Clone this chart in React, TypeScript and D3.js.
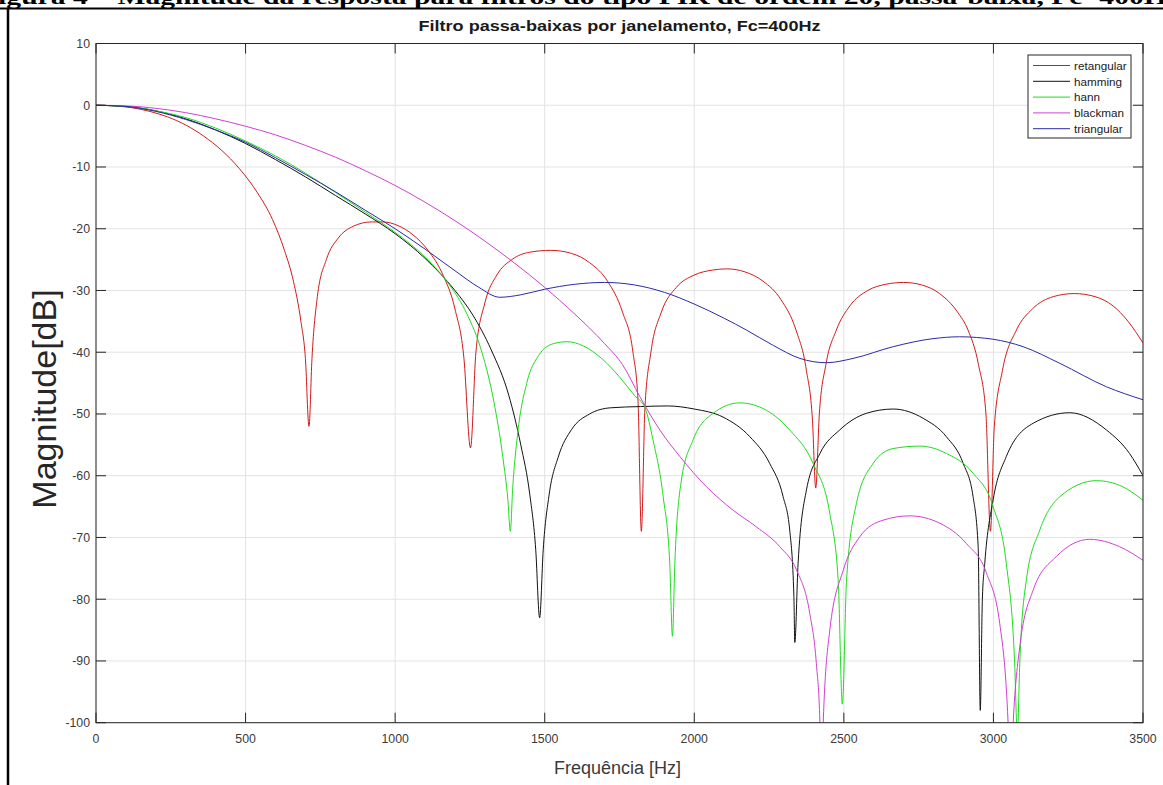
import React from "react";
import * as d3 from "d3";

const W = 1163;
const H = 785;

const headerText = "Figura 4 – Magnitude da resposta para filtros do tipo FIR de ordem 20, passa-baixa, Fc=400Hz";
const titleText = "Filtro passa-baixas por janelamento, Fc=400Hz";
const xLabel = "Frequência [Hz]";
const yLabel = "Magnitude[dB]";

const xTicks = [0, 500, 1000, 1500, 2000, 2500, 3000, 3500];
const yTicks = [10, 0, -10, -20, -30, -40, -50, -60, -70, -80, -90, -100];

const seriesNames = ["retangular", "hamming", "hann", "blackman", "triangular"];
const seriesColors = ["#d41a1a", "#111111", "#1fdc1f", "#d040d0", "#2a2aa8"];

const retangular: [number, number][] = [
  [0, 0], [60, -0.1], [120, -0.4], [180, -1], [240, -1.9], [300, -3.2], [360, -5], [420, -7.3], [480, -10.3],
  [540, -14.2], [590, -18.5], [630, -23.5], [660, -28.5], [685, -35], [700, -41], [712, -52], [722, -41],
  [740, -31], [770, -25], [810, -21.5], [860, -19.6], [920, -18.9], [960, -18.9], [1010, -19.5], [1060, -21],
  [1110, -23.5], [1160, -27.5], [1200, -33], [1230, -41], [1252, -55.5], [1270, -40], [1300, -32], [1340, -27.5],
  [1390, -25], [1450, -23.8], [1520, -23.5], [1590, -24], [1650, -25.5], [1710, -28.5], [1760, -33.5],
  [1795, -40], [1812, -48], [1823, -69], [1835, -49], [1855, -40], [1890, -33.5], [1940, -29.5], [2000, -27.5],
  [2060, -26.7], [2110, -26.5], [2170, -27], [2230, -28.5], [2290, -31.5], [2340, -36.4], [2375, -43],
  [2395, -51], [2406, -62], [2418, -50], [2440, -42], [2475, -36.4], [2520, -32.5], [2580, -30], [2640, -29],
  [2700, -28.7], [2760, -29.1], [2820, -30.5], [2880, -33.5], [2915, -36.4], [2950, -42], [2975, -50],
  [2990, -69], [3003, -52], [3030, -43], [3077, -36.4], [3130, -33], [3200, -31], [3270, -30.5], [3340, -31],
  [3400, -32.5], [3450, -35], [3500, -38.5],
];

const hamming: [number, number][] = [
  [0, 0], [100, -0.2], [200, -0.9], [300, -2.2], [400, -4], [500, -6.2], [600, -8.8], [700, -11.6], [800, -14.6],
  [900, -17.6], [1000, -20.8], [1100, -24.8], [1200, -30], [1260, -34], [1320, -39.5], [1380, -47],
  [1420, -55], [1450, -63], [1470, -72], [1483, -83], [1495, -72], [1515, -63], [1545, -57], [1590, -52.5],
  [1650, -50], [1720, -49], [1820, -48.8], [1910, -48.7], [2000, -49.2], [2096, -50.5], [2186, -53.7],
  [2252, -58], [2297, -63.4], [2319, -68.8], [2333, -79.6], [2336, -87], [2347, -74.2], [2375, -62.3],
  [2420, -56.4], [2486, -52.6], [2575, -49.9], [2665, -49.2], [2765, -50.7], [2843, -53.7], [2899, -58],
  [2932, -63.4], [2949, -71.5], [2956, -98], [2963, -80], [2971, -74.2], [2999, -63.9], [3043, -56.9],
  [3133, -51.5], [3255, -49.8], [3378, -52.6], [3455, -56.4], [3500, -60],
];

const hann: [number, number][] = [
  [0, 0], [100, -0.2], [200, -0.9], [300, -2], [400, -3.7], [500, -5.8], [600, -8.2], [700, -11], [800, -14.1],
  [900, -17.3], [1000, -20.6], [1100, -24.6], [1180, -29], [1240, -33.8], [1290, -40], [1330, -48], [1360, -57],
  [1377, -64], [1385, -69], [1393, -62], [1410, -53], [1440, -45], [1480, -40.5], [1530, -38.6], [1575, -38.3],
  [1630, -39], [1690, -41], [1750, -44], [1800, -47], [1835, -49], [1862, -54.2], [1896, -63.4], [1918, -74.2],
  [1927, -86], [1935, -74.2], [1957, -60.7], [1996, -54.2], [2063, -49.9], [2152, -48.2], [2241, -49.4],
  [2319, -52.6], [2397, -58], [2453, -66.1], [2481, -76.9], [2495, -97], [2509, -76.9], [2542, -64.5],
  [2598, -58], [2665, -55.6], [2754, -55.2], [2843, -56.4], [2932, -59.6], [2999, -65], [3043, -74.2],
  [3071, -90.4], [3080, -102], [3088, -90.4], [3110, -76.9], [3155, -68.8], [3222, -63.4], [3344, -60.8],
  [3433, -61.8], [3500, -64],
];

const blackman: [number, number][] = [
  [0, 0], [100, -0.1], [200, -0.5], [300, -1.2], [400, -2.2], [500, -3.4], [600, -4.8], [700, -6.5], [800, -8.4],
  [900, -10.6], [1000, -13], [1100, -15.7], [1200, -18.7], [1300, -22], [1400, -25.6], [1500, -29.5],
  [1600, -33.8], [1700, -38.6], [1760, -42], [1818, -47.2], [1885, -52.6], [1952, -56.9], [2041, -61.8],
  [2130, -65.6], [2208, -68.3], [2286, -71.5], [2342, -75.3], [2386, -82.3], [2408, -90.4], [2420, -100],
  [2425, -110], [2431, -100], [2453, -85], [2498, -75.3], [2553, -69.9], [2631, -67.2], [2720, -66.5],
  [2821, -67.7], [2910, -71], [2977, -75.8], [3021, -83.9], [3049, -100], [3057, -110], [3066, -100],
  [3088, -87.7], [3133, -78.5], [3210, -73.1], [3322, -70.3], [3422, -71.5], [3500, -73.7],
];

const triangular: [number, number][] = [
  [0, 0], [100, -0.2], [200, -1], [300, -2.3], [400, -4], [500, -6], [600, -8.5], [700, -11.2], [800, -14],
  [900, -17], [1000, -20], [1100, -23.3], [1200, -26.8], [1280, -29.5], [1350, -31.1], [1420, -30.7],
  [1500, -29.8], [1600, -29], [1700, -28.7], [1800, -29.1], [1900, -30.3], [2000, -32.2], [2100, -34.5],
  [2174, -36.4], [2264, -38.9], [2353, -41], [2442, -41.7], [2531, -41], [2665, -39.1], [2798, -37.8],
  [2887, -37.5], [2999, -37.9], [3099, -39.1], [3222, -41.8], [3378, -45.6], [3500, -47.7],
];

const allSeries = [retangular, hamming, hann, blackman, triangular];

const M = { left: 96, right: 1143, top: 43.5, bottom: 722.7 };

export default function App() {
  const x = d3.scaleLinear().domain([0, 3500]).range([M.left, M.right]);
  const y = d3.scaleLinear().domain([-100, 10]).range([M.bottom, M.top]);
  const line = d3
    .line<[number, number]>()
    .x((d) => x(d[0]))
    .y((d) => y(d[1]))
    .curve(d3.curveMonotoneX);

  const axisColor = "#262626";
  const tickColor = "#262626";
  const gridColor = "#e3e3e3";
  const font = "Arial, 'Liberation Sans', Helvetica, sans-serif";

  const legX = 1028;
  const legY = 55;
  const legW = 103;
  const legRow = 15.8;

  return (
    <svg
      width={W}
      height={H}
      style={{ position: "absolute", left: 0, top: 0, background: "#fff" }}
      xmlns="http://www.w3.org/2000/svg"
    >
      <defs>
        <clipPath id="plotClip">
          <rect x={M.left} y={M.top} width={M.right - M.left} height={M.bottom - M.top} />
        </clipPath>
      </defs>
      <rect x={0} y={0} width={W} height={H} fill="#fff" />
      {/* header (cut off at top) */}
      <text
        x={-20}
        y={4}
        fontFamily="'Liberation Serif', 'Times New Roman', serif"
        fontWeight="bold"
        fontSize={22}
        textLength={1200}
        lengthAdjust="spacingAndGlyphs"
        fill="#000"
      >
        {headerText}
      </text>
      {/* document frame */}
      <line x1={0} x2={W} y1={8.5} y2={8.5} stroke="#000" strokeWidth={2} />
      <line x1={8} x2={8} y1={9} y2={H} stroke="#000" strokeWidth={2.5} />

      {/* grid */}
      <g>
        {xTicks.map((t) => (
          <line key={"gx" + t} x1={x(t)} x2={x(t)} y1={M.top} y2={M.bottom} stroke={gridColor} strokeWidth={1} />
        ))}
        {yTicks.map((t) => (
          <line key={"gy" + t} x1={M.left} x2={M.right} y1={y(t)} y2={y(t)} stroke={gridColor} strokeWidth={1} />
        ))}
      </g>

      {/* curves */}
      <g clipPath="url(#plotClip)">
        {allSeries.map((s, i) => (
          <path key={seriesNames[i]} d={line(s) || ""} fill="none" stroke={seriesColors[i]} strokeWidth={1} />
        ))}
      </g>

      {/* axes box */}
      <rect
        x={M.left}
        y={M.top}
        width={M.right - M.left}
        height={M.bottom - M.top}
        fill="none"
        stroke={axisColor}
        strokeWidth={1}
      />
      {/* ticks */}
      {xTicks.map((t) => (
        <g key={"tx" + t}>
          <line x1={x(t)} x2={x(t)} y1={M.bottom} y2={M.bottom - 10} stroke={tickColor} />
          <line x1={x(t)} x2={x(t)} y1={M.top} y2={M.top + 10} stroke={tickColor} />
          <text
            x={x(t)}
            y={742.5}
            textAnchor="middle"
            fontFamily={font}
            fontSize={12.3}
            fill="#3a3a3a"
          >
            {t}
          </text>
        </g>
      ))}
      {yTicks.map((t) => (
        <g key={"ty" + t}>
          <line x1={M.left} x2={M.left + 10} y1={y(t)} y2={y(t)} stroke={tickColor} />
          <line x1={M.right} x2={M.right - 10} y1={y(t)} y2={y(t)} stroke={tickColor} />
          <text
            x={90}
            y={y(t) + 4.3}
            textAnchor="end"
            fontFamily={font}
            fontSize={12.3}
            fill="#3a3a3a"
          >
            {t}
          </text>
        </g>
      ))}

      {/* title */}
      <text
        x={(M.left + M.right) / 2}
        y={31}
        textAnchor="middle"
        fontFamily={font}
        fontWeight="bold"
        fontSize={15.5}
        textLength={402}
        lengthAdjust="spacingAndGlyphs"
        fill="#1a1a1a"
      >
        {titleText}
      </text>

      {/* axis labels */}
      <text x={617.5} y={774} textAnchor="middle" fontFamily={font} fontSize={18} fill="#3a3a3a">
        {xLabel}
      </text>
      <text
        transform={`translate(56, 399) rotate(-90)`}
        textAnchor="middle"
        fontFamily={font}
        fontSize={34}
        fill="#262626"
      >
        {yLabel}
      </text>

      {/* legend */}
      <rect x={legX} y={legY} width={legW} height={legRow * 5 + 4} fill="#fff" stroke="#262626" strokeWidth={1} />
      {seriesNames.map((n, i) => {
        const cy = legY + 10.5 + i * legRow;
        return (
          <g key={"lg" + n}>
            <line x1={legX + 5} x2={legX + 42} y1={cy} y2={cy} stroke={seriesColors[i]} strokeWidth={1} />
            <text x={legX + 46} y={cy + 4.2} fontFamily={font} fontSize={11.7} fill="#1a1a1a">
              {n}
            </text>
          </g>
        );
      })}
    </svg>
  );
}
